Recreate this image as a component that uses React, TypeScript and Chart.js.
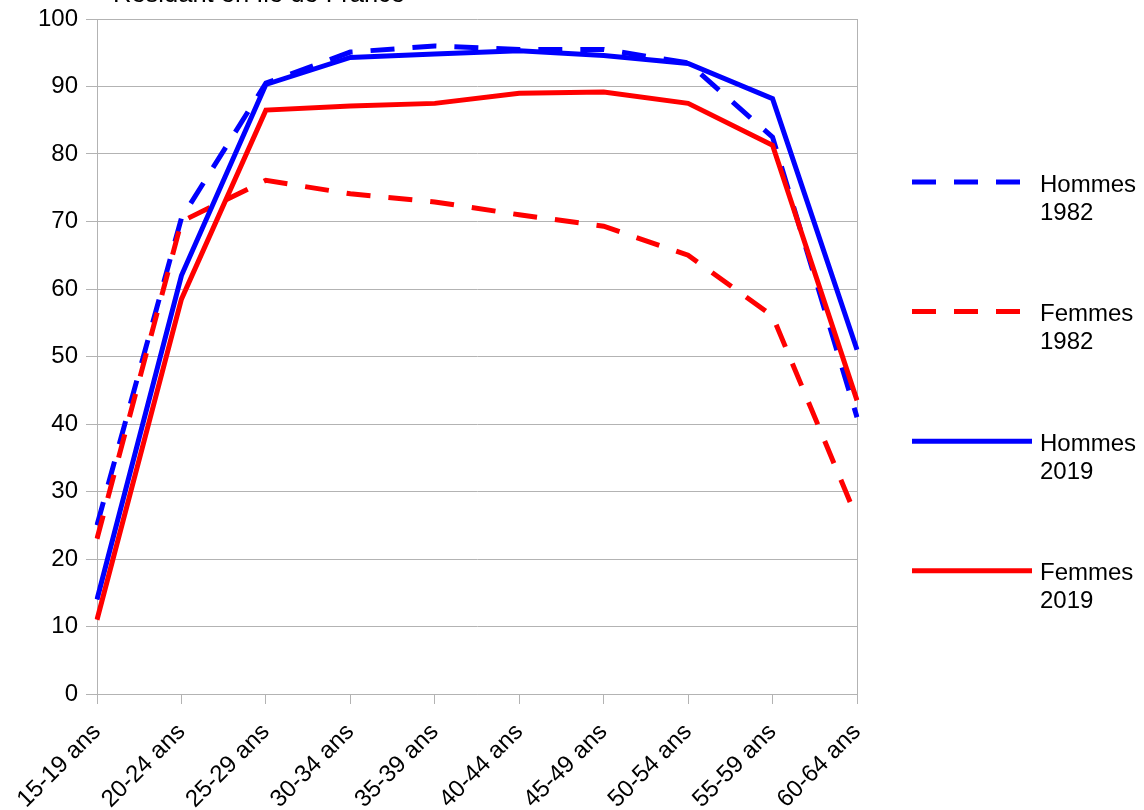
import React, { useEffect, useRef } from "react";
import { Chart, registerables } from "chart.js";

Chart.register(...registerables);

const categories = ["15-19 ans", "20-24 ans", "25-29 ans", "30-34 ans", "35-39 ans", "40-44 ans", "45-49 ans", "50-54 ans", "55-59 ans", "60-64 ans"];
const hommes1982 = [25, 70.5, 90.5, 95.1, 96, 95.5, 95.5, 93.5, 82.5, 41];
const femmes1982 = [23, 70, 76.1, 74.1, 72.9, 71, 69.3, 65, 56, 26];
const hommes2019 = [14, 62, 90.3, 94.3, 94.8, 95.3, 94.6, 93.4, 88.2, 51];
const femmes2019 = [11, 58.5, 86.5, 87.1, 87.5, 89, 89.2, 87.5, 81.3, 43.5];
const seriesLabels = [["Hommes", "1982"], ["Femmes", "1982"], ["Hommes", "2019"], ["Femmes", "2019"]];
const titleText = "Résidant en Île de France";

const FONT = '"Liberation Sans", Arial, sans-serif';
const GRID = "#b3b3b3";

const legendTitlePlugin = {
  id: "legendTitle",
  afterDraw(chart: any) {
    const ctx = chart.ctx;
    ctx.save();
    // title (partially cut at top)
    ctx.fillStyle = "#000";
    ctx.font = `25.5px ${FONT}`;
    ctx.textBaseline = "alphabetic";
    ctx.textAlign = "left";
    ctx.fillText(titleText, 113, 2);
    // legend
    ctx.font = `24px ${FONT}`;
    const metas = chart.data.datasets;
    metas.forEach((ds: any, i: number) => {
      const y = 182 + i * 129.6;
      ctx.beginPath();
      ctx.lineWidth = ds.borderWidth;
      ctx.strokeStyle = ds.borderColor;
      ctx.lineCap = "butt";
      ctx.setLineDash(ds.borderDash || []);
      ctx.moveTo(912, y);
      ctx.lineTo(ds.borderDash ? 1020 : 1032, y);
      ctx.stroke();
      ctx.setLineDash([]);
      ctx.fillStyle = "#000";
      ctx.textBaseline = "middle";
      const lines = ds.legendLines as string[];
      lines.forEach((t, k) => ctx.fillText(t, 1040, y + 3 + k * 28));
    });
    ctx.restore();
  },
};

export default function App() {
  const ref = useRef<HTMLCanvasElement>(null);
  useEffect(() => {
    if (!ref.current) return;
    const mk = (label: string[], data: number[], color: string, dashed: boolean, order: number) => ({
      label: label.join(" "),
      legendLines: label,
      data,
      borderColor: color,
      backgroundColor: color,
      borderWidth: 5,
      borderDash: dashed ? [24, 18] : undefined,
      borderCapStyle: "butt",
      borderJoinStyle: "miter",
      pointRadius: 0,
      tension: 0,
      fill: false,
      order,
    });
    const chart = new Chart(ref.current, {
      type: "line",
      data: {
        labels: categories,
        datasets: [
          mk(seriesLabels[0], hommes1982, "#0000ff", true, 3),
          mk(seriesLabels[1], femmes1982, "#ff0000", true, 2),
          mk(seriesLabels[2], hommes2019, "#0000ff", false, 1),
          mk(seriesLabels[3], femmes2019, "#ff0000", false, 0),
        ] as any,
      },
      options: {
        responsive: false,
        animation: false,
        devicePixelRatio: 1,
        layout: { padding: { top: 19, right: 287, left: 0, bottom: 0 } },
        plugins: { legend: { display: false }, tooltip: { enabled: false }, title: { display: false } },
        scales: {
          x: {
            offset: false,
            border: { color: GRID, width: 1 },
            grid: {
              color: (c: any) => (c.index === categories.length - 1 ? GRID : "transparent"),
              tickColor: GRID,
              tickLength: 10,
              lineWidth: 1,
            },
            ticks: {
              color: "#000",
              font: { family: FONT, size: 24 },
              minRotation: 45,
              maxRotation: 45,
              padding: 14,
              autoSkip: false,
            },
            afterFit: (s: any) => {
              s.height = 116;
            },
          },
          y: {
            min: 0,
            max: 100,
            border: { color: GRID, width: 1 },
            grid: { color: GRID, tickColor: GRID, tickLength: 11, lineWidth: 1 },
            ticks: {
              stepSize: 10,
              color: "#000",
              font: { family: FONT, size: 24 },
              padding: 8,
            },
            afterFit: (s: any) => {
              s.width = 97;
              s.paddingTop = 0;
              s.paddingBottom = 0;
            },
          },
        },
      },
      plugins: [legendTitlePlugin],
    });
    return () => chart.destroy();
  }, []);
  return (
    <div style={{ position: "absolute", left: 0, top: 0, width: 1144, height: 810, background: "#fff" }}>
      <canvas ref={ref} width={1144} height={810} style={{ width: 1144, height: 810, display: "block" }} />
    </div>
  );
}
